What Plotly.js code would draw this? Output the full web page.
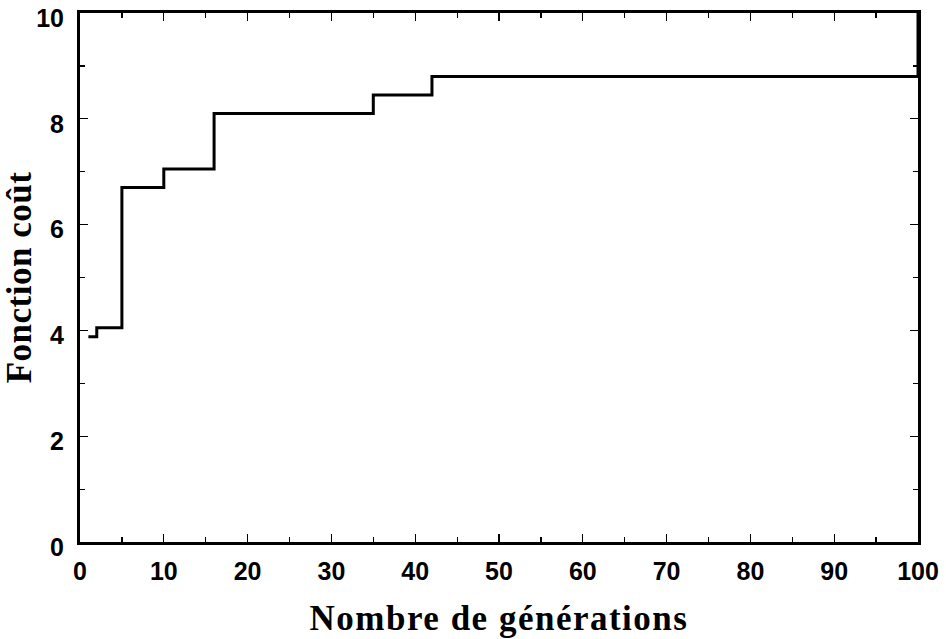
<!DOCTYPE html>
<html>
<head>
<meta charset="utf-8">
<script src="https://cdn.plot.ly/plotly-3.0.1.min.js"></script>
<style>
html,body{margin:0;padding:0;background:#fff;}
#chart{width:946px;height:639px;}
#chart .xtitle{letter-spacing:1.5px;}
#chart .ytitle{letter-spacing:0.5px;}
</style>
</head>
<body>
<div id="chart"></div>
<script>
const generations = [1, 2, 5, 10, 16, 35, 42, 100];
const costValues = [3.88, 4.05, 6.7, 7.05, 8.1, 8.45, 8.8, 10];
const xTickValues = [0, 10, 20, 30, 40, 50, 60, 70, 80, 90, 100];
const yTickValues = [0, 2, 4, 6, 8, 10];
const xTitle = "Nombre de générations";
const yTitle = "Fonction coût";

const trace = {
  x: generations,
  y: costValues,
  type: 'scatter',
  mode: 'lines',
  line: {shape: 'hv', color: '#000', width: 3},
  hoverinfo: 'skip'
};

const tickFont = {family: '"Liberation Sans", Arial, sans-serif', size: 25, color: '#000', weight: 'bold'};
const titleFont = {family: '"Liberation Serif", "Times New Roman", serif', size: 35, color: '#000', weight: 'bold'};

const layout = {
  width: 946, height: 639,
  margin: {l: 80, r: 28, t: 13, b: 97},
  paper_bgcolor: '#fff', plot_bgcolor: '#fff',
  showlegend: false,
  xaxis: {
    range: [0, 100], tickmode: 'array', tickvals: xTickValues,
    ticks: 'inside', ticklen: 8, tickwidth: 1.2, tickcolor: '#000',
    minor: {ticks: 'inside', dtick: 5, ticklen: 5, tickwidth: 1.2, tickcolor: '#000'},
    showline: true, linewidth: 3, linecolor: '#000', mirror: 'ticks',
    showgrid: false, zeroline: false,
    tickfont: tickFont, ticklabelstandoff: 5, ticklabeloverflow: 'allow',
    title: {text: xTitle, font: titleFont, standoff: 22}
  },
  yaxis: {
    range: [0, 10], tickmode: 'array', tickvals: yTickValues,
    ticks: 'inside', ticklen: 8, tickwidth: 1.2, tickcolor: '#000',
    minor: {ticks: 'inside', dtick: 1, ticklen: 5, tickwidth: 1.2, tickcolor: '#000'},
    showline: true, linewidth: 3, linecolor: '#000', mirror: 'ticks',
    showgrid: false, zeroline: false,
    tickfont: tickFont, ticklabelstandoff: 8, ticklabelshift: 5, ticklabeloverflow: 'allow',
    title: {text: yTitle, font: titleFont, standoff: 3}
  }
};

Plotly.newPlot('chart', [trace], layout, {displayModeBar: false, staticPlot: true});
</script>
</body>
</html>
